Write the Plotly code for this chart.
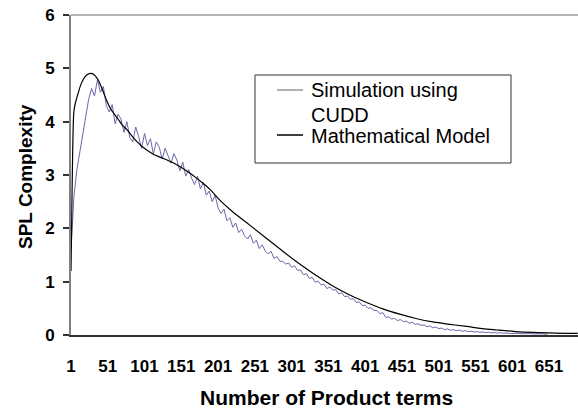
import plotly.graph_objects as go

# ---------------- data ----------------
x_tick_vals = [1, 51, 101, 151, 201, 251, 301, 351, 401, 451, 501, 551, 601, 651]
x_tick_text = [str(v) for v in x_tick_vals]
y_tick_vals = [0, 1, 2, 3, 4, 5, 6]

sim_x = list(range(1, 650, 4))
sim_y = [
    1.6, 2.6, 3.1, 3.42, 3.72, 4.08, 4.42, 4.62, 4.48, 4.79,
    4.55, 4.66, 4.30, 4.18, 4.32, 3.96, 4.14, 4.05, 3.80, 4.00,
    3.70, 3.62, 3.90, 3.72, 3.50, 3.78, 3.55, 3.68, 3.40, 3.62,
    3.52, 3.30, 3.50, 3.36, 3.22, 3.40, 3.28, 3.08, 3.24, 2.98,
    3.10, 2.94, 2.82, 2.98, 2.74, 2.86, 2.62, 2.70, 2.50, 2.62,
    2.38, 2.28, 2.36, 2.14, 2.20, 2.02, 2.10, 1.92, 1.98, 1.86,
    1.80, 1.88, 1.72, 1.78, 1.62, 1.69, 1.58, 1.52, 1.57, 1.44,
    1.47, 1.38, 1.38, 1.33, 1.35, 1.27, 1.30, 1.21, 1.22, 1.13,
    1.15, 1.06, 1.08, 0.99, 1.01, 0.94, 0.95, 0.87, 0.90, 0.84,
    0.85, 0.77, 0.79, 0.72, 0.73, 0.67, 0.68, 0.61, 0.62, 0.55,
    0.56, 0.50, 0.51, 0.46, 0.46, 0.40, 0.42, 0.33, 0.34, 0.30,
    0.31, 0.27, 0.29, 0.25, 0.26, 0.22, 0.24, 0.20, 0.21, 0.18,
    0.19, 0.155, 0.17, 0.135, 0.15, 0.12, 0.13, 0.10, 0.115, 0.09,
    0.10, 0.08, 0.092, 0.07, 0.082, 0.062, 0.072, 0.055, 0.064, 0.05,
    0.058, 0.044, 0.052, 0.04, 0.046, 0.036, 0.042, 0.032, 0.038, 0.029,
    0.034, 0.026, 0.031, 0.024, 0.028, 0.022, 0.026, 0.02, 0.024, 0.018,
    0.022, 0.017, 0.016,
]

model_x = [1, 2, 3, 4, 5, 7, 10, 14, 18, 22, 26, 30, 34, 38, 42, 46, 50, 55, 60, 65,
           70, 77, 84, 91, 98, 105, 113, 121, 130, 140, 150, 160, 170, 180, 190, 204,
           220, 244, 267, 289, 312, 335, 357, 380, 403, 425, 448, 470, 493, 516, 539,
           560, 580, 605, 629, 660, 690]
model_y = [1.2, 2.2, 3.2, 3.9, 4.2, 4.35, 4.5, 4.68, 4.8, 4.87, 4.9, 4.9, 4.86, 4.78, 4.66, 4.52, 4.38, 4.24, 4.14, 4.05,
           3.95, 3.85, 3.73, 3.62, 3.53, 3.46, 3.39, 3.34, 3.29, 3.23, 3.15, 3.06, 2.96, 2.85, 2.73, 2.52,
           2.32, 2.06, 1.81, 1.57, 1.33, 1.11, 0.92, 0.75, 0.61, 0.49, 0.39, 0.31, 0.245, 0.2, 0.16,
           0.12, 0.094, 0.065, 0.048, 0.036, 0.03]

series_names = ["Simulation using<br>CUDD", "Mathematical Model"]
x_title = "Number of Product terms"
y_title = "SPL Complexity"

# ---------------- layout geometry ----------------
W, H = 578, 409
L, R, T, B = 71, 578, 15, 335
X_MIN, X_MAX = 1, 690.4

def px(xp):
    return (xp - L) / (R - L)

def py(yp):
    return (B - yp) / (B - T)

FONT = "Arial, Liberation Sans, sans-serif"

fig = go.Figure()
fig.add_trace(go.Scatter(x=sim_x, y=sim_y, mode="lines", name=series_names[0],
                         line=dict(color="#6868a8", width=1), showlegend=False))
fig.add_trace(go.Scatter(x=model_x, y=model_y, mode="lines", name=series_names[1],
                         line=dict(color="#000000", width=1.2), showlegend=False,
                         line_shape="spline"))

shapes = [
    dict(type="line", xref="paper", yref="paper", x0=0, x1=1, y0=1, y1=1,
         line=dict(color="#b4b4b4", width=2)),
    dict(type="rect", xref="paper", yref="paper", x0=px(255), x1=px(511), y0=py(163), y1=py(75),
         line=dict(color="#333333", width=1), fillcolor="rgba(255,255,255,1)"),
    dict(type="line", xref="paper", yref="paper", x0=px(277), x1=px(303), y0=py(90), y1=py(90),
         line=dict(color="#999999", width=1.5)),
    dict(type="line", xref="paper", yref="paper", x0=px(277), x1=px(303), y0=py(135), y1=py(135),
         line=dict(color="#000000", width=1.5)),
]

annotations = [
    dict(text="Simulation using", x=px(309), y=py(90), xref="paper", yref="paper",
         xanchor="left", yanchor="middle", showarrow=False, font=dict(family=FONT, size=20, color="#000")),
    dict(text="CUDD", x=px(309), y=py(115), xref="paper", yref="paper",
         xanchor="left", yanchor="middle", showarrow=False, font=dict(family=FONT, size=20, color="#000")),
    dict(text="Mathematical Model", x=px(309), y=py(136), xref="paper", yref="paper",
         xanchor="left", yanchor="middle", showarrow=False, font=dict(family=FONT, size=20, color="#000")),
    dict(text="<b>" + x_title + "</b>", x=px(326), y=py(397), xref="paper", yref="paper",
         xanchor="center", yanchor="middle", showarrow=False, font=dict(family=FONT, size=21, color="#000")),
    dict(text="<b>" + y_title + "</b>", x=px(25), y=py(177), xref="paper", yref="paper",
         xanchor="center", yanchor="middle", textangle=-90, showarrow=False,
         font=dict(family=FONT, size=19, color="#000")),
]

fig.update_layout(
    width=W, height=H,
    margin=dict(l=L, r=W - R, t=T, b=H - B, pad=0),
    paper_bgcolor="#ffffff", plot_bgcolor="#ffffff",
    font=dict(family=FONT, color="#000"),
    shapes=shapes, annotations=annotations,
    showlegend=False,
    xaxis=dict(range=[X_MIN, X_MAX], tickmode="array", tickvals=x_tick_vals, ticktext=x_tick_text,
               showgrid=False, zeroline=False, showline=True, linecolor="#333333", linewidth=1.5,
               ticks="outside", ticklen=0, tickcolor="rgba(0,0,0,0)", ticklabelstandoff=15,
               tickfont=dict(family=FONT, size=17, color="#000", weight="bold")),
    yaxis=dict(range=[0, 6], tickmode="array", tickvals=y_tick_vals,
               showgrid=False, zeroline=False, showline=True, linecolor="#808080", linewidth=2,
               ticks="outside", ticklen=6, tickcolor="#333333", tickwidth=1.5, ticklabelstandoff=5,
               tickfont=dict(family=FONT, size=17, color="#000", weight="bold")),
)

fig.write_html("out.html", config={"displayModeBar": False},
               post_script="document.body.style.margin='0';document.body.style.overflow='hidden';")
